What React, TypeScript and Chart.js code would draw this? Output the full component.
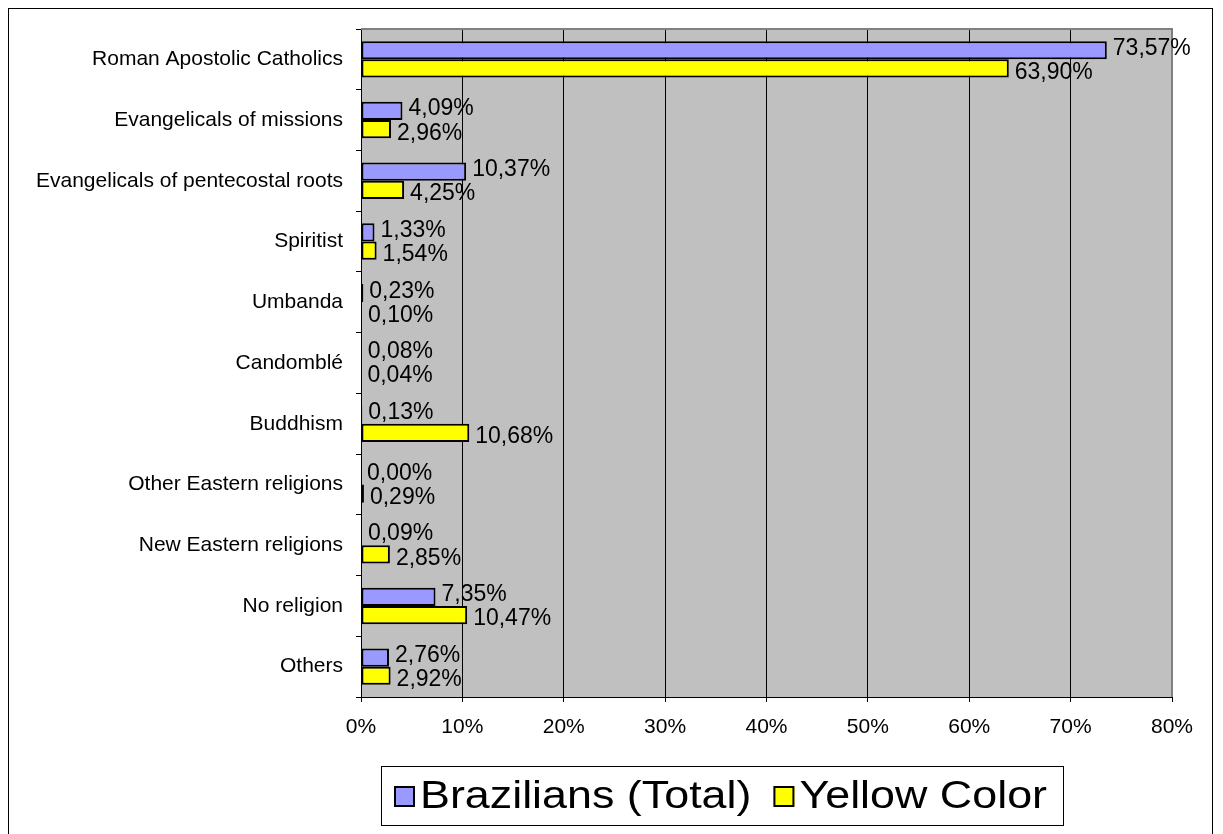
import React, { useEffect, useRef } from "react";
import { Chart, registerables } from "chart.js";

Chart.register(...registerables);

const categories = [
  "Roman Apostolic Catholics",
  "Evangelicals of missions",
  "Evangelicals of pentecostal roots",
  "Spiritist",
  "Umbanda",
  "Candomblé",
  "Buddhism",
  "Other Eastern religions",
  "New Eastern religions",
  "No religion",
  "Others",
];
const braziliansTotal = [73.57, 4.09, 10.37, 1.33, 0.23, 0.08, 0.13, 0.0, 0.09, 7.35, 2.76];
const yellowColor = [63.9, 2.96, 4.25, 1.54, 0.1, 0.04, 10.68, 0.29, 2.85, 10.47, 2.92];
const seriesNames = ["Brazilians (Total)", "Yellow Color"];
const seriesColors = ["#9999FF", "#FFFF00"];
const xMin = 0;
const xMax = 80;
const xStep = 10;

const FONT = '"Liberation Sans", Arial, sans-serif';

const plotBackground = {
  id: "plotBackground",
  beforeDraw(chart: any) {
    const { ctx, chartArea } = chart;
    ctx.save();
    ctx.fillStyle = "#C0C0C0";
    ctx.fillRect(chartArea.left, chartArea.top, chartArea.right - chartArea.left, chartArea.bottom - chartArea.top);
    ctx.restore();
  },
  afterDatasetsDraw(chart: any) {
    const { ctx, chartArea } = chart;
    ctx.save();
    ctx.strokeStyle = "#808080";
    ctx.lineWidth = 2;
    ctx.beginPath();
    ctx.moveTo(chartArea.left, chartArea.top);
    ctx.lineTo(chartArea.right, chartArea.top);
    ctx.lineTo(chartArea.right, chartArea.bottom);
    ctx.stroke();
    ctx.restore();
  },
};

const valueLabels = {
  id: "valueLabels",
  afterDatasetsDraw(chart: any) {
    const { ctx } = chart;
    ctx.save();
    ctx.font = `23px ${FONT}`;
    ctx.fillStyle = "#000";
    ctx.textAlign = "left";
    ctx.textBaseline = "middle";
    chart.data.datasets.forEach((ds: any, di: number) => {
      const meta = chart.getDatasetMeta(di);
      meta.data.forEach((bar: any, i: number) => {
        const v = ds.data[i] as number;
        const text = v.toFixed(2).replace(".", ",") + "%";
        const dy = di === 0 ? -2 : 4;
        ctx.fillText(text, bar.x + 6, bar.y + dy);
      });
    });
    ctx.restore();
  },
};

const boxLegend = {
  id: "boxLegend",
  afterDraw(chart: any) {
    const { ctx, chartArea } = chart;
    ctx.save();
    ctx.font = `38px ${FONT}`;
    const sx = 1.18;
    const sw = 21;
    const gapText = 5;
    const gapItem = 22;
    const padL = 13;
    const padR = 16;
    const items = chart.data.datasets.map((ds: any) => ({
      text: ds.label as string,
      color: ds.backgroundColor as string,
      w: ctx.measureText(ds.label).width * sx,
    }));
    let total = padL + padR;
    items.forEach((it: any, i: number) => {
      total += sw + gapText + it.w + (i > 0 ? gapItem : 0);
    });
    const left = Math.round(chartArea.left + 20);
    const h = 59;
    const top = chart.height - 68;
    ctx.fillStyle = "#fff";
    ctx.fillRect(left, top, total, h);
    ctx.strokeStyle = "#000";
    ctx.lineWidth = 1;
    ctx.strokeRect(left + 0.5, top + 0.5, Math.round(total), h);
    let x = left + padL;
    const cy = top + h / 2;
    ctx.textBaseline = "middle";
    ctx.textAlign = "left";
    items.forEach((it: any, i: number) => {
      if (i > 0) x += gapItem;
      ctx.fillStyle = it.color;
      ctx.fillRect(x, cy - sw / 2 + 1, sw, sw);
      ctx.strokeStyle = "#000";
      ctx.lineWidth = 2;
      ctx.strokeRect(x + 1, cy - sw / 2 + 2, sw - 2, sw - 2);
      x += sw + gapText;
      ctx.save();
      ctx.translate(x, cy + 2);
      ctx.scale(sx, 1);
      ctx.fillStyle = "#000";
      ctx.fillText(it.text, 0, 0);
      ctx.restore();
      x += it.w;
    });
    ctx.restore();
  },
};

export default function App() {
  const ref = useRef<HTMLCanvasElement | null>(null);

  useEffect(() => {
    if (!ref.current) return;
    const chart = new Chart(ref.current, {
      type: "bar",
      data: {
        labels: categories,
        datasets: [
          {
            label: seriesNames[0],
            data: braziliansTotal,
            backgroundColor: seriesColors[0],
            borderColor: "#000",
            borderWidth: 2,
            borderSkipped: false,
            categoryPercentage: 0.6,
            barPercentage: 1.0,
          },
          {
            label: seriesNames[1],
            data: yellowColor,
            backgroundColor: seriesColors[1],
            borderColor: "#000",
            borderWidth: 2,
            borderSkipped: false,
            categoryPercentage: 0.6,
            barPercentage: 1.0,
          },
        ],
      },
      options: {
        indexAxis: "y",
        responsive: false,
        maintainAspectRatio: false,
        animation: false,
        devicePixelRatio: 1,
        layout: { padding: { top: 20, right: 40, left: 0, bottom: 0 } },
        plugins: {
          legend: { display: false },
          tooltip: { enabled: false },
        },
        scales: {
          x: {
            type: "linear",
            min: xMin,
            max: xMax,
            afterFit: (s: any) => {
              s.height = 137;
            },
            ticks: {
              stepSize: xStep,
              color: "#000",
              font: { family: FONT, size: 21 },
              padding: 13,
              callback: (v: any) => `${v}%`,
            },
            grid: { color: "#000", lineWidth: 1, tickLength: 5 },
            border: { display: true, color: "#000", width: 1 },
          },
          y: {
            type: "category",
            afterFit: (s: any) => {
              s.width = 352;
              s.paddingTop = 0;
              s.paddingBottom = 0;
            },
            ticks: {
              color: "#000",
              font: { family: FONT, size: 21 },
              padding: 13,
              autoSkip: false,
            },
            grid: { offset: true, drawOnChartArea: false, color: "#000", tickLength: 5 },
            border: { display: true, color: "#000", width: 1 },
          },
        },
      },
      plugins: [plotBackground, valueLabels, boxLegend],
    });
    return () => chart.destroy();
  }, []);

  return (
    <div
      style={{
        position: "fixed",
        left: 8,
        top: 8,
        width: 1205,
        height: 900,
        border: "1px solid #000",
        boxSizing: "border-box",
        background: "#fff",
      }}
    >
      <canvas ref={ref} width={1203} height={825} style={{ display: "block" }} />
    </div>
  );
}
